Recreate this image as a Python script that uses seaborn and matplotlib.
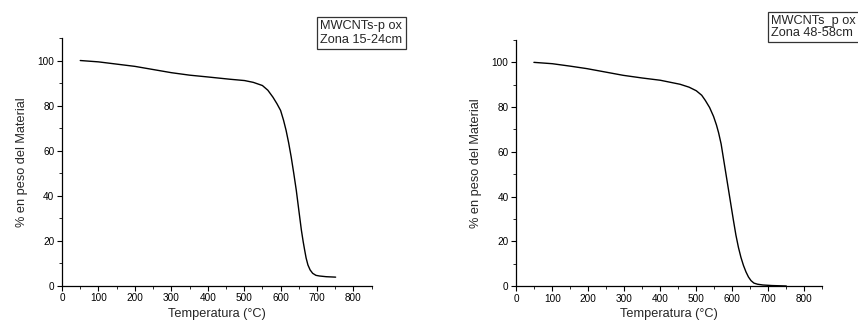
import matplotlib
matplotlib.use("Agg")
import matplotlib.pyplot as plt
from matplotlib.ticker import MultipleLocator
import pandas as pd
import seaborn as sns

# TGA curves: temperature (°C) vs remaining mass (%)
temp_a = [50, 100, 150, 200, 250, 300, 350, 400, 460, 501, 525, 550, 565, 579,
          590, 600, 608, 615, 622, 629, 636, 643, 650, 657, 662, 666, 670, 675,
          681, 688, 697, 707, 725, 751]
mass_a = [100.0, 99.4, 98.4, 97.4, 96.0, 94.6, 93.5, 92.7, 91.7, 91.1, 90.3,
          88.9, 86.8, 83.7, 80.8, 77.8, 73.5, 69.0, 63.5, 57.2, 50.0, 42.4,
          33.5, 24.7, 19.5, 15.8, 12.3, 9.2, 7.0, 5.5, 4.6, 4.3, 4.0, 3.8]

temp_b = [49, 100, 150, 196, 250, 297, 350, 400, 455, 480, 500, 515, 525, 537,
          548, 556, 562, 569, 576, 583, 589, 596, 603, 610, 617, 624, 631, 638,
          645, 652, 660, 670, 685, 710, 750]
mass_b = [100.0, 99.4, 98.3, 97.2, 95.6, 94.2, 93.0, 92.0, 90.2, 88.9, 87.3,
          85.3, 83.0, 79.8, 75.8, 72.0, 68.5, 63.5, 56.5, 49.5, 43.5, 36.5,
          29.5, 22.8, 17.3, 12.8, 9.2, 6.3, 4.0, 2.4, 1.3, 0.8, 0.45, 0.2, 0.0]

labels = ["MWCNTs-p ox\nZona 15-24cm", "MWCNTs_p ox\nZona 48-58cm"]

sns.set_theme(style="ticks")
plt.rcParams["font.family"] = ["Liberation Sans", "DejaVu Sans"]
plt.rcParams["axes.linewidth"] = 0.9

fig = plt.figure(figsize=(8.58, 3.27), dpi=100)
ax_a = fig.add_axes([0.0723, 0.1263, 0.3609, 0.7575])
ax_b = fig.add_axes([0.6017, 0.1254, 0.3567, 0.7523])

frames = [pd.DataFrame({"T": temp_a, "m": mass_a}),
          pd.DataFrame({"T": temp_b, "m": mass_b})]

for ax, df in zip([ax_a, ax_b], frames):
    sns.lineplot(data=df, x="T", y="m", ax=ax, color="black", linewidth=1.0,
                 sort=False, estimator=None)
    ax.set_xlim(0, 850)
    ax.set_ylim(0, 110)
    ax.set_xticks(range(0, 801, 100))
    ax.set_yticks(range(0, 101, 20))
    ax.xaxis.set_minor_locator(MultipleLocator(50))
    ax.yaxis.set_minor_locator(MultipleLocator(10))
    ax.tick_params(which="major", direction="out", length=3.5, width=0.8,
                   labelsize=7.2, colors="black", pad=2)
    ax.tick_params(which="minor", direction="out", length=2, width=0.7)
    sns.despine(ax=ax)
    for s in ("left", "bottom"):
        ax.spines[s].set_color("black")
    ax.set_xlabel("Temperatura (°C)", fontsize=9.2, labelpad=3)
    ax.set_ylabel("% en peso del Material", fontsize=9.2, labelpad=7)
    ax.set_facecolor("white")

box = dict(boxstyle="square,pad=0.25", fc="white", ec="#333333", lw=0.9)
fig.text(0.3735, 0.9375, labels[0], fontsize=9.2, ha="left", va="top",
         linespacing=1.15, bbox=box)
fig.text(0.8985, 0.9535, labels[1], fontsize=9.2, ha="left", va="top",
         linespacing=1.0, bbox=box)

fig.savefig("out.png", dpi=100, facecolor="white")
